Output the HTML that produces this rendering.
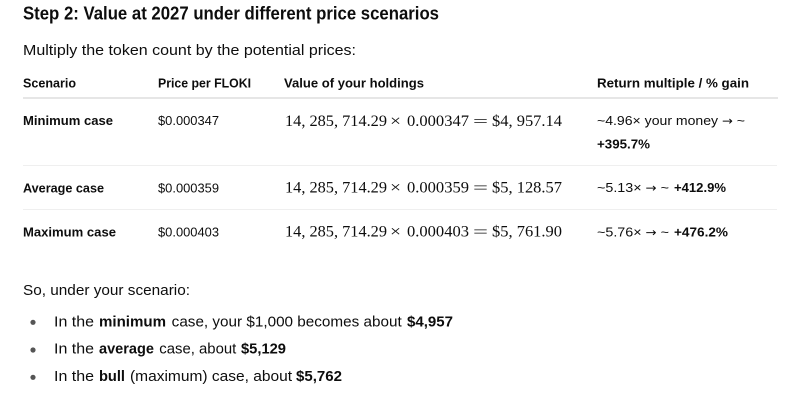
<!DOCTYPE html>
<html><head><meta charset="utf-8"><style>
html,body{margin:0;padding:0;background:#fff;}
svg{display:block;}
.s{font-family:"Liberation Sans",sans-serif;fill:#0d0d0d;}
.b{font-weight:bold;}
.m{font-family:"Liberation Serif",serif;fill:#0d0d0d;font-size:16px;}
.a{font-family:"DejaVu Sans",sans-serif;}
</style></head><body>
<svg width="799" height="410" viewBox="0 0 799 410" xmlns="http://www.w3.org/2000/svg">
<rect width="799" height="410" fill="#fff"/>
<text class="s b" x="23" y="19.5" font-size="18.5" textLength="416" lengthAdjust="spacingAndGlyphs">Step 2: Value at 2027 under different price scenarios</text>
<text class="s" x="23" y="55" font-size="15" textLength="333" lengthAdjust="spacingAndGlyphs">Multiply the token count by the potential prices:</text>

<text class="s b" x="23" y="87.5" font-size="13" textLength="53" lengthAdjust="spacingAndGlyphs">Scenario</text>
<text class="s b" x="158" y="87.5" font-size="13" textLength="93" lengthAdjust="spacingAndGlyphs">Price per FLOKI</text>
<text class="s b" x="284" y="87.5" font-size="13" textLength="140" lengthAdjust="spacingAndGlyphs">Value of your holdings</text>
<text class="s b" x="597" y="87.5" font-size="13" textLength="152" lengthAdjust="spacingAndGlyphs">Return multiple / % gain</text>
<rect x="23" y="97" width="755" height="2" fill="#e6e6e6"/>

<text class="s b" x="23" y="125" font-size="13" textLength="90" lengthAdjust="spacingAndGlyphs">Minimum case</text>
<text class="s" x="158" y="125" font-size="13" textLength="61" lengthAdjust="spacingAndGlyphs">$0.000347</text>
<text class="m" x="285" y="126" textLength="102" lengthAdjust="spacingAndGlyphs">14, 285, 714.29</text>
<text class="m" x="390" y="126" font-size="20" textLength="11" lengthAdjust="spacingAndGlyphs">×</text>
<text class="m" x="407" y="126" textLength="62" lengthAdjust="spacingAndGlyphs">0.000347</text>
<text class="m" x="473" y="126.5" font-size="20" textLength="15" lengthAdjust="spacingAndGlyphs">=</text>
<text class="m" x="492" y="126" textLength="70" lengthAdjust="spacingAndGlyphs">$4, 957.14</text>
<text class="s" x="597" y="125" font-size="13" textLength="148" lengthAdjust="spacingAndGlyphs">~4.96× your money <tspan class="a" font-size="12">→</tspan> ~</text>
<text class="s b" x="597" y="148.5" font-size="13" textLength="53" lengthAdjust="spacingAndGlyphs">+395.7%</text>
<rect x="23" y="165" width="754" height="1" fill="#efefef"/>

<text class="s b" x="23" y="192.7" font-size="13" textLength="81" lengthAdjust="spacingAndGlyphs">Average case</text>
<text class="s" x="158" y="192.7" font-size="13" textLength="61" lengthAdjust="spacingAndGlyphs">$0.000359</text>
<text class="m" x="285" y="192.7" textLength="102" lengthAdjust="spacingAndGlyphs">14, 285, 714.29</text>
<text class="m" x="390" y="192.7" font-size="20" textLength="11" lengthAdjust="spacingAndGlyphs">×</text>
<text class="m" x="407" y="192.7" textLength="62" lengthAdjust="spacingAndGlyphs">0.000359</text>
<text class="m" x="473" y="193.2" font-size="20" textLength="15" lengthAdjust="spacingAndGlyphs">=</text>
<text class="m" x="492" y="192.7" textLength="70" lengthAdjust="spacingAndGlyphs">$5, 128.57</text>
<text class="s" x="597" y="192.2" font-size="13" textLength="72" lengthAdjust="spacingAndGlyphs">~5.13× <tspan class="a" font-size="12">→</tspan> ~</text>
<text class="s b" x="674" y="192.2" font-size="13" textLength="52" lengthAdjust="spacingAndGlyphs">+412.9%</text>
<rect x="23" y="209" width="754" height="1" fill="#efefef"/>

<text class="s b" x="23" y="236.7" font-size="13" textLength="93" lengthAdjust="spacingAndGlyphs">Maximum case</text>
<text class="s" x="158" y="236.7" font-size="13" textLength="61" lengthAdjust="spacingAndGlyphs">$0.000403</text>
<text class="m" x="285" y="236.7" textLength="102" lengthAdjust="spacingAndGlyphs">14, 285, 714.29</text>
<text class="m" x="390" y="236.7" font-size="20" textLength="11" lengthAdjust="spacingAndGlyphs">×</text>
<text class="m" x="407" y="236.7" textLength="62" lengthAdjust="spacingAndGlyphs">0.000403</text>
<text class="m" x="473" y="237.2" font-size="20" textLength="15" lengthAdjust="spacingAndGlyphs">=</text>
<text class="m" x="492" y="236.7" textLength="70" lengthAdjust="spacingAndGlyphs">$5, 761.90</text>
<text class="s" x="597" y="236.5" font-size="13" textLength="72" lengthAdjust="spacingAndGlyphs">~5.76× <tspan class="a" font-size="12">→</tspan> ~</text>
<text class="s b" x="674" y="236.5" font-size="13" textLength="54" lengthAdjust="spacingAndGlyphs">+476.2%</text>

<text class="s" x="23" y="295" font-size="15" textLength="167" lengthAdjust="spacingAndGlyphs">So, under your scenario:</text>

<circle cx="33" cy="322.3" r="2.6" fill="#555"/>
<text class="s" x="54" y="326.7" font-size="15" textLength="40" lengthAdjust="spacingAndGlyphs">In the</text>
<text class="s b" x="99" y="326.7" font-size="15" textLength="67" lengthAdjust="spacingAndGlyphs">minimum</text>
<text class="s" x="171.7" y="326.7" font-size="15" textLength="230" lengthAdjust="spacingAndGlyphs">case, your $1,000 becomes about</text>
<text class="s b" x="407" y="326.7" font-size="15" textLength="46" lengthAdjust="spacingAndGlyphs">$4,957</text>

<circle cx="33" cy="350" r="2.6" fill="#555"/>
<text class="s" x="54" y="353.5" font-size="15" textLength="40" lengthAdjust="spacingAndGlyphs">In the</text>
<text class="s b" x="99" y="353.5" font-size="15" textLength="55" lengthAdjust="spacingAndGlyphs">average</text>
<text class="s" x="159.3" y="353.5" font-size="15" textLength="77" lengthAdjust="spacingAndGlyphs">case, about</text>
<text class="s b" x="241" y="353.5" font-size="15" textLength="45" lengthAdjust="spacingAndGlyphs">$5,129</text>

<circle cx="33" cy="377.3" r="2.6" fill="#555"/>
<text class="s" x="54" y="381" font-size="15" textLength="40" lengthAdjust="spacingAndGlyphs">In the</text>
<text class="s b" x="99" y="381" font-size="15" textLength="26" lengthAdjust="spacingAndGlyphs">bull</text>
<text class="s" x="130" y="381" font-size="15" textLength="162" lengthAdjust="spacingAndGlyphs">(maximum) case, about</text>
<text class="s b" x="296" y="381" font-size="15" textLength="46" lengthAdjust="spacingAndGlyphs">$5,762</text>
</svg>
</body></html>
